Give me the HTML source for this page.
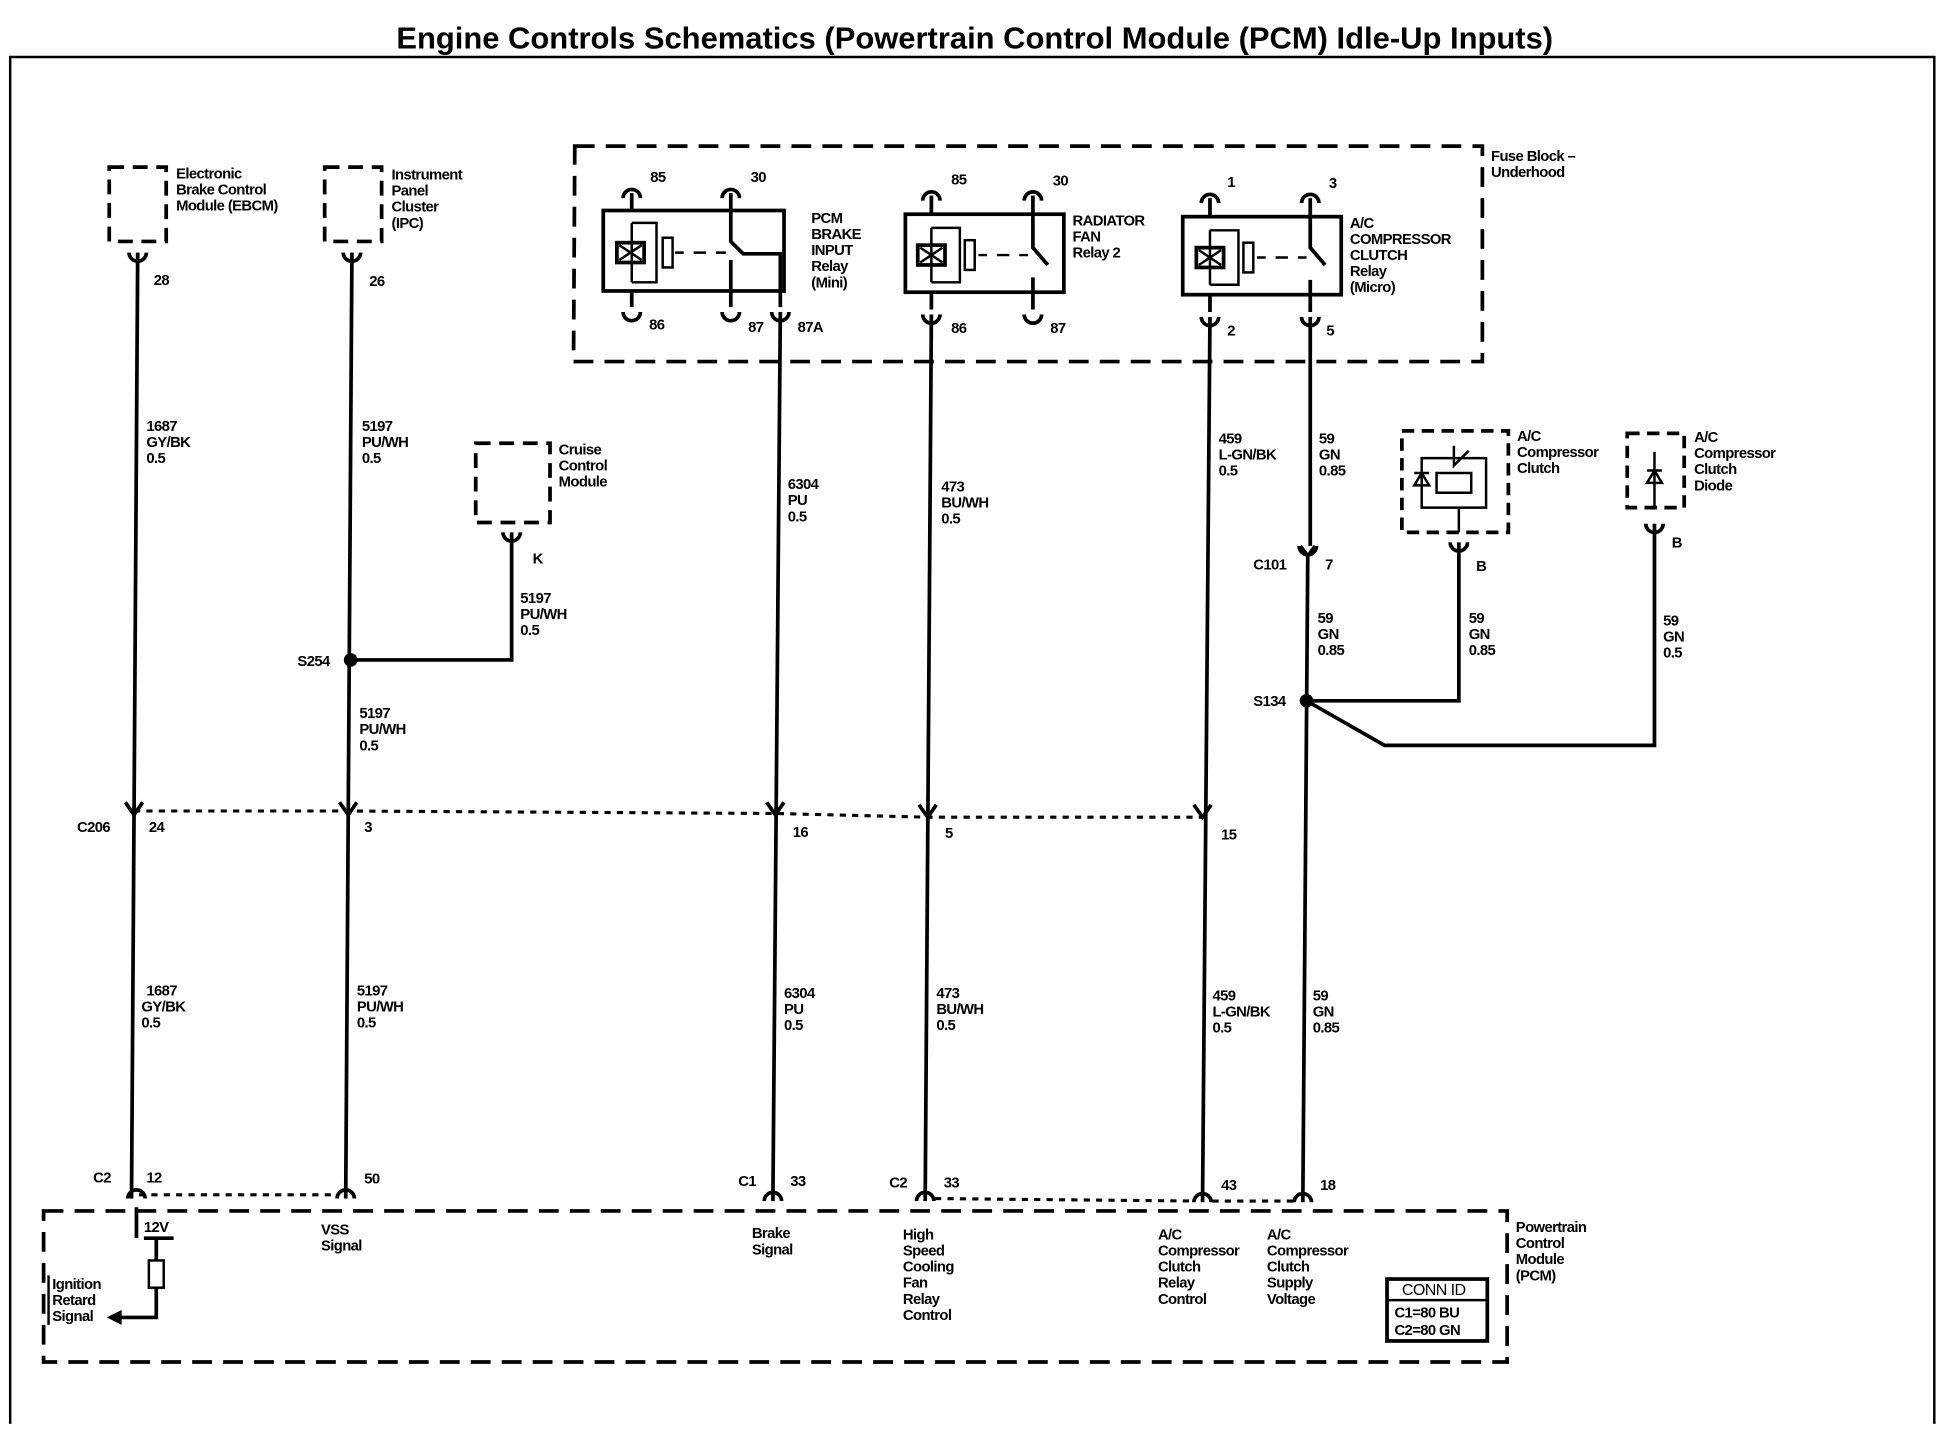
<!DOCTYPE html>
<html><head><meta charset="utf-8"><style>
html,body{margin:0;padding:0;background:#fff;}
svg{display:block}
text{font-family:"Liberation Sans",sans-serif;font-weight:bold;font-size:12px;fill:#000;letter-spacing:-0.5px}
.w{stroke:#000;stroke-width:3;fill:none}
.t{stroke:#000;stroke-width:2;fill:none}
.d{stroke:#000;stroke-width:3;fill:none;stroke-dasharray:16 9}
.s{stroke:#000;stroke-width:2.5;fill:none;stroke-dasharray:5 5}
</style></head><body>
<svg width="1942" height="1440" viewBox="0 0 1568 1163">
<rect width="1568" height="1163" fill="#fff"/>
<text x="787" y="39" text-anchor="middle" style="font-size:25px;letter-spacing:0px">Engine Controls Schematics (Powertrain Control Module (PCM) Idle-Up Inputs)</text>
<path class="t" d="M8 1150 L8 46 L1562 46 L1562 1150"/>

<path class="d" d="M88 135 H134 V195 H88 Z" style="stroke-dasharray:12 7"/>
<text x="142" y="144">Electronic</text><text x="142" y="157">Brake Control</text><text x="142" y="170">Module (EBCM)</text>
<path class="d" d="M262 135 H308 V195 H262 Z" style="stroke-dasharray:12 7"/>
<text x="316" y="145">Instrument</text><text x="316" y="158">Panel</text><text x="316" y="171">Cluster</text><text x="316" y="184">(IPC)</text>
<path class="d" d="M384 358 H444 V422 H384 Z" style="stroke-dasharray:12 7"/>
<text x="451" y="367">Cruise</text><text x="451" y="380">Control</text><text x="451" y="393">Module</text>

<path class="d" d="M464 118 H1197 V292 H463 Z"/>
<text x="1204" y="130">Fuse Block –</text><text x="1204" y="143">Underhood</text>

<rect class="w" x="487" y="170" width="146" height="65"/>
<path class="w" d="M510 156 V170 M510 235 V248 M590 156 V195 L600 205 H630 V248 M590 210 V248"/>
<path class="t" d="M510 180 H530 V228 H510 M510 180 V228"/>
<rect class="w" x="498" y="196" width="22" height="16"/><path class="t" d="M500 198 L518 210 M518 198 L500 210"/>
<rect class="t" x="535" y="192" width="8" height="24"/>
<path class="t" d="M545 204 H552 M560 204 H570 M578 204 H586"/>
<text x="525" y="147">85</text><text x="606" y="147">30</text>
<text x="524" y="266">86</text><text x="604" y="268">87</text><text x="644" y="268">87A</text>
<text x="655" y="180">PCM</text><text x="655" y="193">BRAKE</text><text x="655" y="206">INPUT</text><text x="655" y="219">Relay</text><text x="655" y="232">(Mini)</text>
<rect class="w" x="731" y="173" width="128" height="63"/>
<path class="w" d="M752 158 V173 M752 236 V250 M834 158 V200 L846 214 M834 224 V250"/>
<path class="t" d="M752 184 H775 V228 H752 M752 184 V228"/>
<rect class="w" x="741" y="198" width="22" height="16"/><path class="t" d="M743 200 L761 212 M761 200 L743 212"/>
<rect class="t" x="779" y="194" width="8" height="24"/>
<path class="t" d="M790 206 H797 M805 206 H815 M823 206 H830"/>
<text x="768" y="149">85</text><text x="850" y="150">30</text>
<text x="768" y="269">86</text><text x="848" y="269">87</text>
<text x="866" y="182">RADIATOR</text><text x="866" y="195">FAN</text><text x="866" y="208">Relay 2</text>
<rect class="w" x="955" y="175" width="128" height="63"/>
<path class="w" d="M977 160 V175 M977 238 V252 M1058 160 V200 L1070 214 M1058 226 V252"/>
<path class="t" d="M977 186 H1000 V230 H977 M977 186 V230"/>
<rect class="w" x="966" y="200" width="22" height="16"/><path class="t" d="M968 202 L986 214 M986 202 L968 214"/>
<rect class="t" x="1004" y="196" width="8" height="24"/>
<path class="t" d="M1015 208 H1022 M1030 208 H1040 M1048 208 H1055"/>
<text x="991" y="151">1</text><text x="1073" y="152">3</text>
<text x="991" y="271">2</text><text x="1071" y="271">5</text>
<text x="1090" y="184">A/C</text><text x="1090" y="197">COMPRESSOR</text><text x="1090" y="210">CLUTCH</text><text x="1090" y="223">Relay</text><text x="1090" y="236">(Micro)</text>

<g class="w">
<path d="M503 160 A7 7 0 0 1 517 160"/><path d="M583 160 A7 7 0 0 1 597 160"/>
<path d="M503 252 A7 7 0 0 0 517 252"/><path d="M583 252 A7 7 0 0 0 597 252"/><path d="M623 252 A7 7 0 0 0 637 252"/>
<path d="M745 162 A7 7 0 0 1 759 162"/><path d="M827 162 A7 7 0 0 1 841 162"/>
<path d="M745 254 A7 7 0 0 0 759 254"/><path d="M827 254 A7 7 0 0 0 841 254"/>
<path d="M970 164 A7 7 0 0 1 984 164"/><path d="M1051 164 A7 7 0 0 1 1065 164"/>
<path d="M970 256 A7 7 0 0 0 984 256"/><path d="M1051 256 A7 7 0 0 0 1065 256"/>
<path d="M104 204 A7 7 0 0 0 118 204"/><path d="M277 204 A7 7 0 0 0 291 204"/><path d="M406 430 A7 7 0 0 0 420 430"/>
<path d="M1049 441 A7 7 0 0 0 1063 441"/><path d="M1171 438 A7 7 0 0 0 1185 438"/><path d="M1329 423 A7 7 0 0 0 1343 423"/>
<path d="M103 968 A7 7 0 0 1 117 968"/><path d="M272 968 A7 7 0 0 1 286 968"/><path d="M617 970 A7 7 0 0 1 631 970"/>
<path d="M740 970 A7 7 0 0 1 754 970"/><path d="M964 971 A7 7 0 0 1 978 971"/><path d="M1045 971 A7 7 0 0 1 1059 971"/>
</g>
<g class="w">
<path d="M101 648 L108 658 L115 648"/><path d="M274 648 L281 658 L288 648"/><path d="M619 648 L626 658 L633 648"/>
<path d="M742 650 L749 660 L756 650"/><path d="M964 650 L971 660 L978 650"/>
</g>
<path class="s" d="M108 655 L281 655 L626 657 L749 660 L971 660"/>

<g class="w">
<path d="M111 204 L106 968"/><path d="M284 204 L279 968"/>
<path d="M413 430 V533 H284"/>
<path d="M630 252 L624 970"/><path d="M752 254 L747 970"/><path d="M977 256 L971 971"/>
<path d="M1058 256 V441 M1056 447 L1052 971"/>
<path d="M1178 438 V566 H1055"/><path d="M1336 423 V602 H1118 L1055 566"/>
</g>
<circle cx="283" cy="533" r="5.5"/><circle cx="1055" cy="566" r="5.5"/>
<path class="w" d="M1050 441 L1056 449 L1062 441"/>

<text x="118" y="348">1687</text><text x="118" y="361">GY/BK</text><text x="118" y="374">0.5</text>
<text x="292" y="348">5197</text><text x="292" y="361">PU/WH</text><text x="292" y="374">0.5</text>
<text x="420" y="487">5197</text><text x="420" y="500">PU/WH</text><text x="420" y="513">0.5</text>
<text x="240" y="538">S254</text>
<text x="290" y="580">5197</text><text x="290" y="593">PU/WH</text><text x="290" y="606">0.5</text>
<text x="636" y="395">6304</text><text x="636" y="408">PU</text><text x="636" y="421">0.5</text>
<text x="760" y="397">473</text><text x="760" y="410">BU/WH</text><text x="760" y="423">0.5</text>
<text x="984" y="358">459</text><text x="984" y="371">L-GN/BK</text><text x="984" y="384">0.5</text>
<text x="1065" y="358">59</text><text x="1065" y="371">GN</text><text x="1065" y="384">0.85</text>
<text x="1012" y="460">C101</text><text x="1070" y="460">7</text>
<text x="1064" y="503">59</text><text x="1064" y="516">GN</text><text x="1064" y="529">0.85</text>
<text x="1186" y="503">59</text><text x="1186" y="516">GN</text><text x="1186" y="529">0.85</text>
<text x="1343" y="505">59</text><text x="1343" y="518">GN</text><text x="1343" y="531">0.5</text>
<text x="1012" y="570">S134</text>
<text x="430" y="455">K</text><text x="124" y="230">28</text><text x="298" y="231">26</text>
<text x="1192" y="461">B</text><text x="1350" y="442">B</text>

<path class="d" d="M1132 348 H1218 V430 H1132 Z" style="stroke-dasharray:10 6"/>
<path class="t" d="M1148 370 H1200 V410 H1148 Z M1160 382 H1188 V398 H1160 Z M1174 360 V376 L1186 364 M1178 410 V430"/>
<path class="t" d="M1148 382 L1142 392 H1154 Z M1142 382 H1154"/>
<text x="1225" y="356">A/C</text><text x="1225" y="369">Compressor</text><text x="1225" y="382">Clutch</text>
<path class="d" d="M1314 350 H1360 V410 H1314 Z" style="stroke-dasharray:10 6"/>
<path class="t" d="M1336 365 V410 M1330 390 L1336 380 L1342 390 Z M1330 380 H1342"/>
<text x="1368" y="357">A/C</text><text x="1368" y="370">Compressor</text><text x="1368" y="383">Clutch</text><text x="1368" y="396">Diode</text>

<text x="62" y="672">C206</text><text x="120" y="672">24</text><text x="294" y="672">3</text>
<text x="640" y="676">16</text><text x="763" y="677">5</text><text x="986" y="678">15</text>

<text x="118" y="804">1687</text><text x="114" y="817">GY/BK</text><text x="114" y="830">0.5</text>
<text x="288" y="804">5197</text><text x="288" y="817">PU/WH</text><text x="288" y="830">0.5</text>
<text x="633" y="806">6304</text><text x="633" y="819">PU</text><text x="633" y="832">0.5</text>
<text x="756" y="806">473</text><text x="756" y="819">BU/WH</text><text x="756" y="832">0.5</text>
<text x="979" y="808">459</text><text x="979" y="821">L-GN/BK</text><text x="979" y="834">0.5</text>
<text x="1060" y="808">59</text><text x="1060" y="821">GN</text><text x="1060" y="834">0.85</text>

<text x="75" y="955">C2</text><text x="118" y="955">12</text><text x="294" y="956">50</text>
<text x="596" y="958">C1</text><text x="638" y="958">33</text><text x="718" y="959">C2</text><text x="762" y="959">33</text>
<text x="986" y="961">43</text><text x="1066" y="961">18</text>
<path class="s" d="M112 965 H272 M755 968 L964 970 M979 970 H1045"/>

<path class="d" d="M35 978 H1217 V1100 H35 Z"/>
<text x="1224" y="995">Powertrain</text><text x="1224" y="1008">Control</text><text x="1224" y="1021">Module</text><text x="1224" y="1034">(PCM)</text>
<path class="w" d="M110 975 V1000 M116 1000 H140 M126 1000 V1018 M126 1040 V1064 H95"/>
<rect class="t" x="120" y="1018" width="12" height="22"/>
<path d="M86 1064 L98 1058 V1070 Z"/>
<text x="116" y="995">12V</text>
<text x="42" y="1041">Ignition</text><text x="42" y="1054">Retard</text><text x="42" y="1067">Signal</text>
<path class="t" d="M39 1030 V1070"/>
<text x="259" y="997">VSS</text><text x="259" y="1010">Signal</text>
<text x="607" y="1000">Brake</text><text x="607" y="1013">Signal</text>
<text x="729" y="1001">High</text><text x="729" y="1014">Speed</text><text x="729" y="1027">Cooling</text><text x="729" y="1040">Fan</text><text x="729" y="1053">Relay</text><text x="729" y="1066">Control</text>
<text x="935" y="1001">A/C</text><text x="935" y="1014">Compressor</text><text x="935" y="1027">Clutch</text><text x="935" y="1040">Relay</text><text x="935" y="1053">Control</text>
<text x="1023" y="1001">A/C</text><text x="1023" y="1014">Compressor</text><text x="1023" y="1027">Clutch</text><text x="1023" y="1040">Supply</text><text x="1023" y="1053">Voltage</text>
<rect class="w" x="1120" y="1033" width="81" height="50"/>
<path class="t" d="M1120 1050 H1201"/>
<text x="1132" y="1046" style="font-weight:normal;font-size:13px">CONN ID</text>
<text x="1126" y="1064">C1=80 BU</text><text x="1126" y="1078">C2=80 GN</text>
</svg>
</body></html>
